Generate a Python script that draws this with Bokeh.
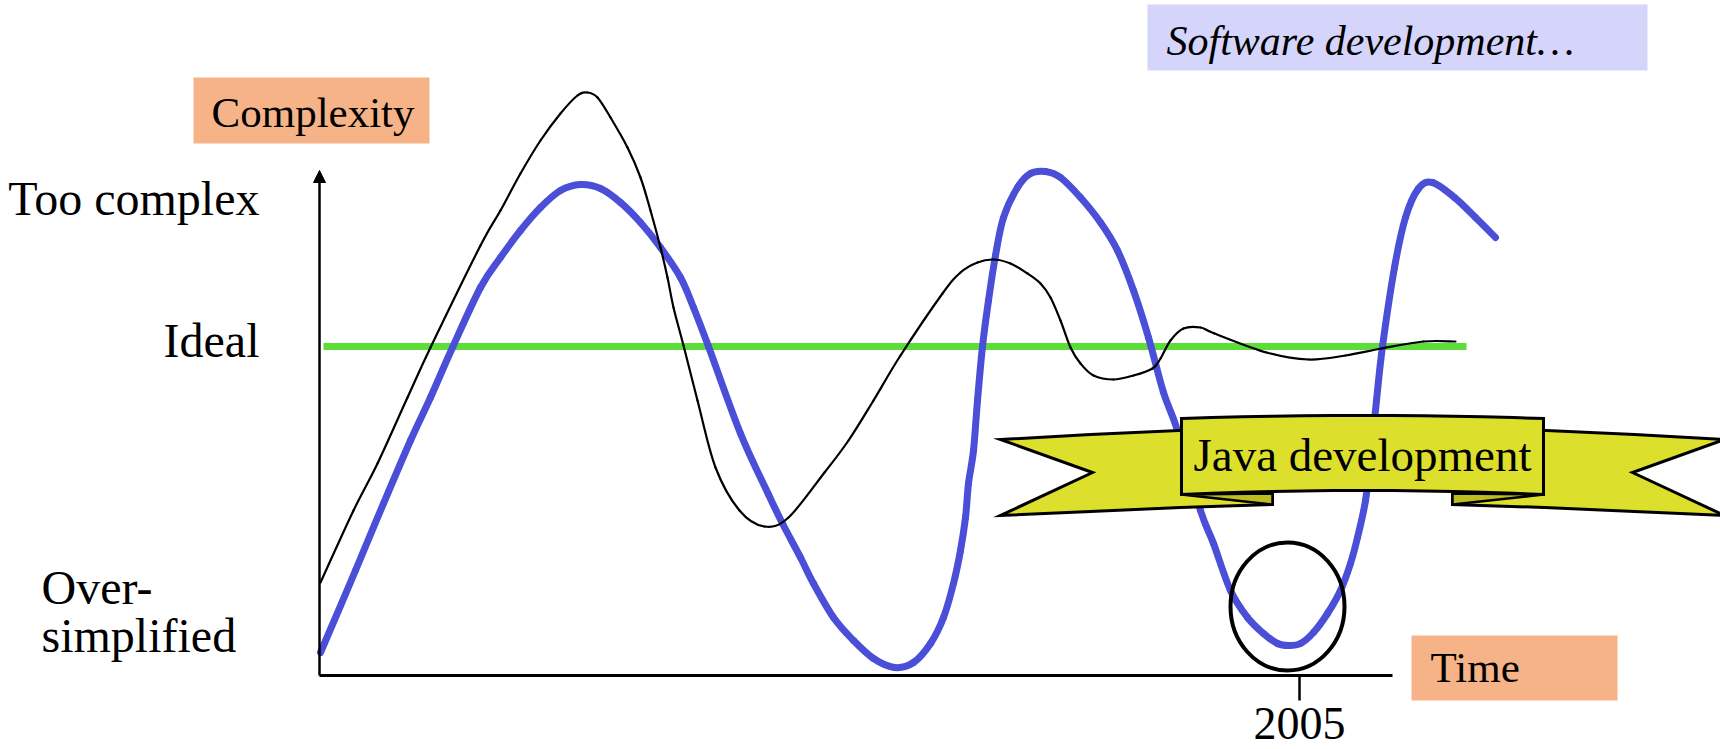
from bokeh.plotting import figure
from bokeh.models import Range1d, Arrow, NormalHead
from bokeh.core.properties import value
from bokeh.embed import file_html
from bokeh.resources import INLINE

# ---------------- data (time units, complexity units) ----------------
time_software = [0.1, 3.6, 6.4, 9.1, 11.1, 13.3, 16.1, 18.1, 20.1, 22.1, 24.1, 26.1, 28.1,
                 30.1, 32.1, 34.1, 36.1, 37.4, 38.9, 42.1, 44.9, 46.3, 48.1, 49.4,
                 51.4, 53.4, 55.4, 57.5, 59.4, 61.1, 62.4, 63.4, 64.1, 64.6, 64.9,
                 65.4, 65.8, 66.3, 66.9, 67.6, 68.4, 69.8, 71.1, 72.6, 74.1, 76.1,
                 78.1, 79.8, 81.4, 82.9, 84.4, 85.8, 88.1, 89.4, 91.1, 92.8, 94.4,
                 95.8, 96.9, 98.1, 99.4, 100.8, 102.1, 103.1, 103.8, 104.6, 105.2,
                 105.7, 106.3, 107.5, 108.6, 109.9, 111.3, 113.5, 115.6, 117.6]
complexity_software = [4.6, 21.0, 34.4, 47.0, 55.6, 65.6, 77.6, 83.6, 89.0, 93.6, 97.0, 98.2, 97.4,
                       94.6, 90.6, 85.6, 79.6, 73.6, 65.8, 48.4, 36.2, 30.4, 23.6, 18.4,
                       11.6, 7.0, 3.4, 1.6, 2.6, 6.4, 11.6, 18.4, 25.0, 31.6, 38.4,
                       45.0, 55.0, 65.8, 75.0, 84.0, 91.6, 97.6, 100.4, 100.8, 99.6, 95.6,
                       90.6, 85.0, 77.0, 67.6, 56.6, 49.0, 33.0, 26.4, 17.0, 11.6, 8.4,
                       6.4, 6.0, 6.4, 8.6, 12.4, 17.0, 22.4, 27.6, 35.0, 45.0,
                       55.0, 65.8, 81.6, 91.6, 97.4, 98.6, 95.6, 91.6, 87.6]

time_java = [0.1, 3.4, 5.8, 8.8, 11.1, 16.1, 18.1, 20.1, 22.1, 24.1, 25.8, 26.8, 27.8, 29.1,
             30.8, 32.1, 33.1, 34.1, 34.8, 35.4, 36.4, 37.8, 39.6, 42.0, 44.5, 46.9,
             50.5, 52.9, 55.4, 58.1, 62.3, 64.1, 65.8, 67.4, 69.1, 70.8, 72.1, 73.1,
             74.1, 75.1, 76.1, 77.4, 79.4, 81.4, 83.3, 84.1, 85.1, 86.4, 88.1, 89.5,
             94.7, 98.9, 102.6, 106.2, 110.4, 113.6]
complexity_java = [18.6, 33.0, 42.4, 55.6, 65.6, 86.0, 93.0, 100.4, 107.0, 112.4, 116.0, 116.6, 115.6, 111.6,
                   105.6, 99.6, 93.0, 85.6, 79.6, 73.6, 66.0, 55.0, 41.6, 33.0, 29.8, 31.6,
                   40.6, 47.0, 55.0, 64.0, 76.4, 80.6, 82.6, 83.2, 82.4, 80.4, 78.4, 75.6,
                   71.0, 65.6, 62.4, 60.0, 59.2, 60.0, 61.4, 63.4, 67.0, 69.4, 69.6, 68.4,
                   64.6, 63.2, 64.0, 65.4, 66.8, 66.8]

ideal_level = 65.8
ideal_time_span = [0.4, 114.7]

level_labels = ["Too complex", "Ideal"]
level_values = [95.4, 67.1]
low_label_lines = ["Over-", "simplified"]
low_label_values = [17.6, 8.1]

time_axis_end = 107.3
complexity_axis_top = 101.0
tick_times = [98.0]
tick_labels = ["2005"]

highlight_time = [96.8]
highlight_complexity = [13.8]
highlight_width = 11.4
highlight_height = 25.6

# ---------------- layout helpers ----------------
W, H = 1720, 749
OFF = 0.0                    # page offset of the canvas
AX0, AY0 = 319.0, 675.0      # page pixel of the axes origin
SX, SY = 10.0, 5.0           # pixels per data unit


def px(x, y):
    return (x - AX0) / SX, (AY0 - y) / SY


def pxs(pts):
    xs, ys = [], []
    for a, b in pts:
        u, v = px(a, b)
        xs.append(u)
        ys.append(v)
    return xs, ys


p = figure(width=W, height=H, output_backend="svg", toolbar_location=None,
           x_range=Range1d((OFF - AX0) / SX, (OFF + W - AX0) / SX),
           y_range=Range1d((AY0 - (OFF + H)) / SY, (AY0 - OFF) / SY),
           min_border=0, background_fill_color="white", border_fill_color="white")
p.axis.visible = False
p.grid.visible = False
p.outline_line_color = None

SERIF = value("Liberation Serif")


def smooth_line(xs, ys, **kw):
    """Draw a smooth curve through the given points (Catmull-Rom as cubic Beziers)."""
    n = len(xs)
    x0, y0, x1, y1, cx0, cy0, cx1, cy1 = [], [], [], [], [], [], [], []
    for i in range(n - 1):
        xa, ya = xs[max(i - 1, 0)], ys[max(i - 1, 0)]
        xb, yb = xs[i], ys[i]
        xc, yc = xs[i + 1], ys[i + 1]
        xd, yd = xs[min(i + 2, n - 1)], ys[min(i + 2, n - 1)]
        x0.append(xb); y0.append(yb); x1.append(xc); y1.append(yc)
        cx0.append(xb + (xc - xa) / 6.0); cy0.append(yb + (yc - ya) / 6.0)
        cx1.append(xc - (xd - xb) / 6.0); cy1.append(yc - (yd - yb) / 6.0)
    p.bezier(x0=x0, y0=y0, x1=x1, y1=y1, cx0=cx0, cy0=cy0, cx1=cx1, cy1=cy1, **kw)


# ---------------- boxes ----------------
def box(x0, y0, x1, y1, color):
    l, t = px(x0, y0)
    r, b = px(x1, y1)
    p.quad(left=[l], right=[r], top=[t], bottom=[b], fill_color=color, line_color=None)

box(1147, 4, 1647, 70, "#D5D5FC")
box(193, 77, 429, 143, "#F5B387")
box(1411, 635, 1617, 700, "#F5B387")

def label(x, y, txt, size, align="left", style="normal"):
    u, v = px(x, y)
    p.text(x=[u], y=[v], text=[txt], text_font=SERIF, text_font_size=size,
           text_align=align, text_baseline="alphabetic", text_color="black",
           text_font_style=style)

label(1166, 40, "Software development\u2026", "42px", style="italic")
label(211, 112, "Complexity", "43px")
label(1430, 667, "Time", "43px")

# ---------------- axes ----------------
p.line([0, time_axis_end], [0, 0], line_color="black", line_width=3)
p.add_layout(Arrow(x_start=0, y_start=0, x_end=0, y_end=complexity_axis_top,
                   line_color="black", line_width=2.5,
                   end=NormalHead(size=12, fill_color="black", line_color="black")))
p.segment(x0=tick_times, y0=[0] * len(tick_times), x1=tick_times, y1=[-5] * len(tick_times),
          line_color="black", line_width=2.5)
p.text(x=tick_times, y=[-9.6] * len(tick_times), text=tick_labels, text_font=SERIF,
       text_font_size="46px", text_align="center", text_baseline="alphabetic")

# level labels
p.text(x=[-6.0] * len(level_labels), y=level_values, text=level_labels, text_font=SERIF,
       text_font_size="48px", text_align="right", text_baseline="alphabetic")
p.text(x=[-27.8] * len(low_label_lines), y=low_label_values, text=low_label_lines,
       text_font=SERIF, text_font_size="48px", text_align="left", text_baseline="alphabetic")

# ---------------- curves ----------------
p.line(ideal_time_span, [ideal_level, ideal_level], line_color="#5CDD3A", line_width=7)
smooth_line(time_software, complexity_software, line_color="#4B4FD8", line_width=7,
            line_cap="round")
smooth_line(time_java, complexity_java, line_color="black", line_width=2.2, line_cap="round")

# ---------------- banner ----------------
YELLOW = "#DCDF2B"
DARK = "#BDBD22"
CX = 1362.0
left_wing = [(1000, 439), (1090, 434), (1200, 429), (1200, 494), (1272, 492),
             (1272, 504), (1180, 507), (1090, 511), (1000, 515), (1092, 472)]
left_fold = [(1181, 494), (1272, 493), (1272, 504)]
for pts in (left_wing, [(2 * CX - a, b) for a, b in left_wing]):
    xs, ys = pxs(pts)
    p.patch(xs, ys, fill_color=YELLOW, line_color="black", line_width=3, line_join="miter")
for pts in (left_fold, [(2 * CX - a, b) for a, b in left_fold]):
    xs, ys = pxs(pts)
    p.patch(xs, ys, fill_color=DARK, line_color="black", line_width=2.5)

n = 12
top = []
bot = []
for i in range(n + 1):
    t = -1 + 2 * i / n
    xx = CX + t * 181
    top.append((xx, 418 - 3 * (1 - t * t)))
    bot.append((xx, 494 - 4 * (1 - t * t)))
center_banner = top + bot[::-1]
xs, ys = pxs(center_banner)
p.patch(xs, ys, fill_color=YELLOW, line_color="black", line_width=3, line_join="miter")
label(CX, 454, "Java development", "47px", align="center")

# ---------------- highlight ----------------
p.ellipse(x=highlight_time, y=highlight_complexity, width=highlight_width,
          height=highlight_height, fill_color=None, line_color="black", line_width=4)

open("out.html", "w").write(file_html(p, INLINE))
